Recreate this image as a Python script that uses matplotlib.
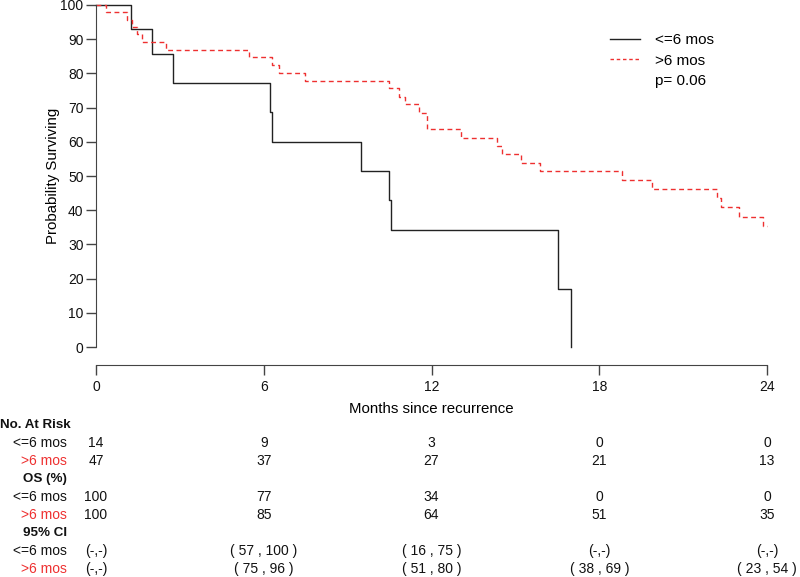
import matplotlib
matplotlib.use("Agg")
import matplotlib.pyplot as plt
from matplotlib.lines import Line2D
from matplotlib.transforms import blended_transform_factory

plt.rcParams['font.family'] = ['Liberation Sans', 'DejaVu Sans']

# Kaplan-Meier steps (months, % surviving)
times_le6 = [0, 1.25, 2.0, 2.75, 6.22, 6.28, 9.48, 10.47, 10.54, 16.53, 17.0]
surv_le6 = [100, 92.9, 85.7, 77.1, 68.6, 60.0, 51.4, 42.9, 34.3, 17.1, 0]

times_gt6 = [0, 0.35, 1.1, 1.28, 1.46, 1.64, 2.5, 5.48, 6.3, 6.56, 7.47,
             10.49, 10.84, 11.06, 11.56, 11.85, 13.04, 14.33, 14.53, 15.2,
             15.88, 18.83, 19.9, 22.2, 22.34, 23.0, 23.84, 24.0]
surv_gt6 = [100, 97.9, 95.6, 93.7, 91.4, 89.1, 86.9, 84.7, 82.5, 80.2, 77.9,
            75.6, 73.2, 71.0, 68.5, 63.6, 61.2, 58.8, 56.3, 53.9,
            51.5, 48.8, 46.2, 43.5, 40.8, 38.1, 35.4, 35.4]

groups = ['<=6 mos', '>6 mos']
p_text = 'p= 0.06'

# table under the plot
table_times = [0, 6, 12, 18, 24]
at_risk = {'<=6 mos': ['14', '9', '3', '0', '0'],
           '>6 mos': ['47', '37', '27', '21', '13']}
os_pct = {'<=6 mos': ['100', '77', '34', '0', '0'],
          '>6 mos': ['100', '85', '64', '51', '35']}
ci95 = {'<=6 mos': ['(-,-)', '( 57 , 100 )', '( 16 , 75 )', '(-,-)', '(-,-)'],
        '>6 mos': ['(-,-)', '( 75 , 96 )', '( 51 , 80 )', '( 38 , 69 )', '( 23 , 54 )']}

W, H = 800, 577
fig = plt.figure(figsize=(W / 100, H / 100), dpi=100)
ax = fig.add_axes([96 / W, 1 - 365 / H, 671 / W, 360 / H])

dark = '#222222'
red = '#ee3030'
fs = 10

ax.step(times_le6, surv_le6, where='post', color=dark, lw=1.0, clip_on=False)
ax.step(times_gt6, surv_gt6, where='post', color=red, lw=1.0,
        linestyle=(0, (3.5, 2.5)), clip_on=False)

ax.set_xlim(0, 24)
ax.set_ylim(-5.26, 100)
ax.set_xticks(table_times)
ax.set_yticks(range(0, 101, 10))
for s in ['top', 'right']:
    ax.spines[s].set_visible(False)
ax.spines['left'].set_bounds(0, 100)
ax.spines['bottom'].set_bounds(0, 24)
for s in ['left', 'bottom']:
    ax.spines[s].set_color('#444444')
ax.tick_params(axis='both', length=7, width=1, color='#444444',
               labelsize=10, labelcolor='#111111')
ax.tick_params(axis='x', pad=4)
ax.tick_params(axis='y', pad=2)
ax.set_ylabel('Probability Surviving', fontsize=10.8)
ax.yaxis.set_label_coords(-0.054, 0.526)
ax.set_xlabel('Months since recurrence', fontsize=10.8)
ax.xaxis.set_label_coords(0.5, -0.102)

handles = [Line2D([], [], color=dark, lw=1.0),
           Line2D([], [], color=red, lw=1.0, linestyle=(0, (2.5, 2))),
           Line2D([], [], color='none')]
leg = ax.legend(handles, groups + [p_text], loc='upper left',
                bbox_to_anchor=(0.745, 0.96), frameon=False, fontsize=11,
                handlelength=2.0, handletextpad=1.0, labelspacing=0.42)

# numbers table
tr = blended_transform_factory(ax.transData, fig.transFigure)
row_y = [425, 443, 461, 479, 497, 515, 533, 551, 569]
sections = [('No. At Risk', at_risk), ('OS (%)', os_pct), ('95% CI', ci95)]
i = 0
for title, data in sections:
    if i == 0:
        fig.text(0.5 / W, 1 - row_y[i] / H, title, ha='left', va='center',
                 fontsize=9.6, fontweight='bold', color='#111111')
    else:
        fig.text(67 / W, 1 - row_y[i] / H, title, ha='right', va='center',
                 fontsize=9.6, fontweight='bold', color='#111111')
    i += 1
    for g in groups:
        col = '#111111' if g == '<=6 mos' else red
        fig.text(67 / W, 1 - row_y[i] / H, g, ha='right', va='center',
                 fontsize=fs, color=col)
        for t, v in zip(table_times, data[g]):
            fig.text(t, 1 - row_y[i] / H, v, transform=tr, ha='center',
                     va='center', fontsize=fs, color='#111111')
        i += 1

fig.savefig('out.png', dpi=100)
